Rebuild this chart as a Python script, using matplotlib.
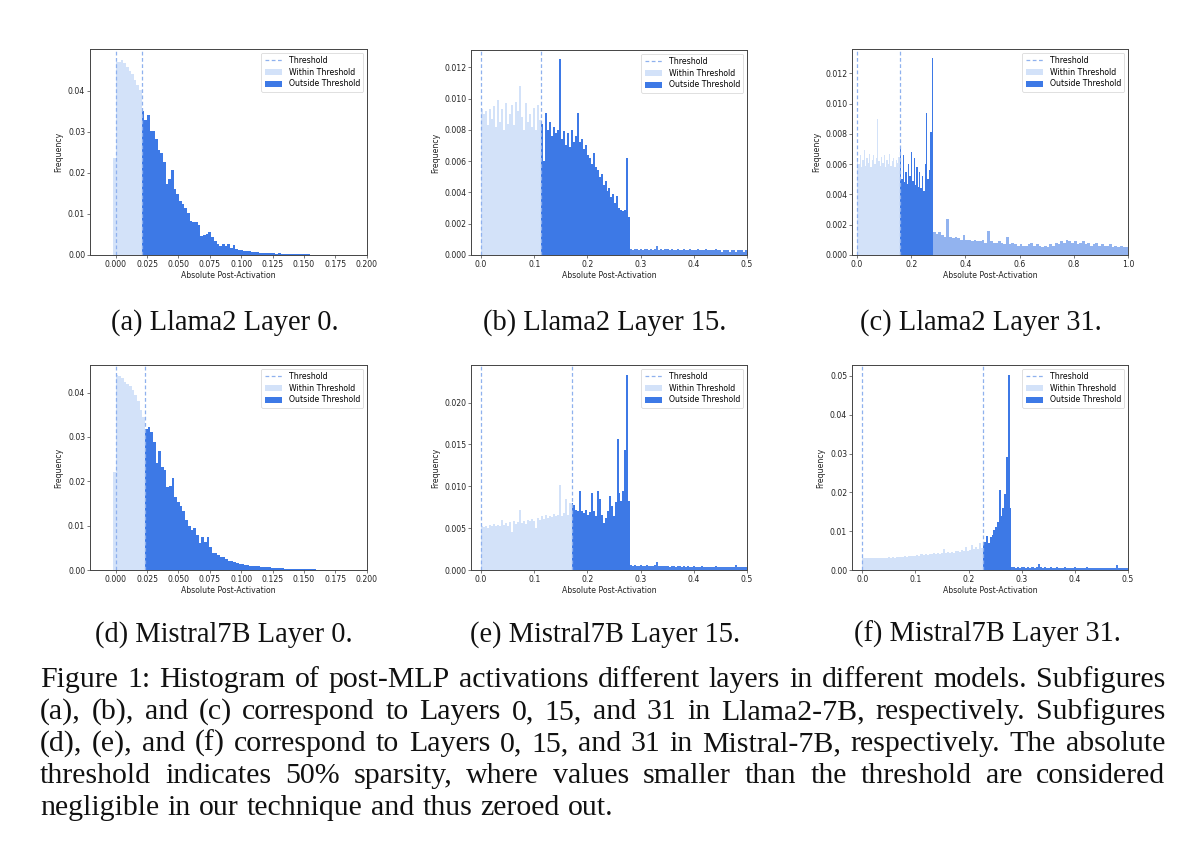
import numpy as np
import matplotlib
matplotlib.use("Agg")
import matplotlib.pyplot as plt
from matplotlib.lines import Line2D
from matplotlib.patches import Patch

# ---------------- data (bar heights in units of 1e-4) ----------------
SCALE = 1e-4

# (a) Llama2 Layer 0
A_LO, A_THR, A_BIN = -0.0021, 0.0207, 0.00213
a_within = [236, 470, 470, 476, 469, 459, 449, 441, 427, 415, 402]
a_outside = [351, 328, 340, 303, 303, 283, 256, 248, 226, 172, 185, 207, 160, 148, 132,
             124, 114, 102, 83, 81, 80, 73, 46, 49, 50, 55, 45, 33, 28, 22, 27, 23, 27,
             16, 24, 14, 11, 12, 10, 9, 9, 8, 7, 7, 6, 6, 5, 5, 4, 4, 3, 4, 3, 3, 3, 2,
             2, 2, 2, 2, 1.5, 2, 1.5, 1, 1, 1, 1, 1, 1, 1, 0.8, 0.8, 0.7, 0.6, 0.6, 0.5,
             0.5, 0.5, 0.4, 0.4, 0.3, 0.3, 0.3, 0.2]

# (b) Llama2 Layer 15
B_THR, B_CUT, B_END = 0.113, 0.2805, 0.5
b_within = [93, 90, 92, 83, 93, 87, 95, 82, 99, 85, 93, 80, 97, 84, 90, 96, 83, 98, 92, 108,
            88, 80, 97, 85, 90, 82, 94, 80, 96, 86]
b_outside = [84, 60, 91, 80, 85, 76, 82, 78, 80, 125, 74, 79, 70, 78, 69, 80, 72, 76, 91, 72,
             74, 68, 70, 64, 62, 58, 65, 56, 54, 50, 52, 45, 47, 41, 43, 37, 39, 33, 38, 30,
             29, 28, 29, 62, 24]
b_tail = [4, 3, 4, 4, 3, 4, 3, 4, 4, 3, 4, 3, 4, 6, 3, 4, 3, 4, 4, 3, 4, 3, 3, 4, 3, 3, 4, 3,
          3, 4, 3, 3, 3, 4, 3, 3, 3, 4, 3, 3, 3, 3, 4, 3, 3, 2, 3, 3, 3, 2, 3, 3, 2, 3, 3, 3,
          2, 3]

# (c) Llama2 Layer 31
C_THR, C_CUT, C_END = 0.158, 0.28, 1.0
c_within = [62, 60, 66, 58, 63, 69, 59, 64, 61, 67, 58, 63, 66, 60, 64, 90, 62, 59, 65, 61,
            66, 58, 63, 60, 67, 59, 62, 64, 58, 63, 61, 65]
c_outside = [72, 50, 66, 48, 55, 47, 60, 52, 68, 49, 64, 46, 58, 45, 55, 44, 52, 42, 60, 94,
             50, 56, 81, 130]
c_tail = [15, 14, 15, 13, 12, 24, 12, 11, 12, 11, 10, 13, 10, 10, 9, 10, 9, 9, 10, 8, 16, 9,
          8, 8, 9, 8, 7, 12, 7, 8, 7, 6, 7, 6, 6, 7, 8, 6, 7, 6, 5, 6, 5, 7, 6, 8, 7, 9, 8,
          10, 9, 8, 9, 7, 8, 9, 7, 8, 6, 7, 8, 6, 7, 6, 6, 7, 5, 6, 5, 6, 5, 5]

# (d) Mistral7B Layer 0
D_LO, D_THR, D_BIN = -0.0021, 0.0234, 0.00213
d_within = [220, 440, 438, 432, 423, 420, 414, 405, 395, 380, 361, 344]
d_outside = [318, 322, 310, 289, 242, 269, 233, 226, 188, 190, 207, 165, 154, 145, 132, 113,
             100, 90, 94, 79, 60, 74, 62, 74, 51, 39, 38, 34, 30, 29, 24, 21, 20, 17, 15, 14,
             14, 12, 11, 10, 9, 8, 8, 7, 7, 6, 6, 5, 5, 4, 4, 4, 3, 3, 3, 3, 2, 2, 2, 2, 2,
             1.5, 1.5, 1.5, 1, 1, 1, 1, 1, 1, 0.8, 0.8, 0.7, 0.6, 0.6, 0.5, 0.5, 0.4, 0.4,
             0.3, 0.3, 0.3, 0.2]

# (e) Mistral7B Layer 15
E_THR, E_CUT, E_END = 0.170, 0.2805, 0.5
e_within = [52, 51, 53, 50, 54, 52, 55, 53, 54, 52, 60, 54, 56, 52, 57, 45, 58, 55, 57, 72,
            56, 59, 55, 60, 58, 61, 59, 50, 62, 60, 64, 61, 66, 62, 65, 63, 67, 64, 66, 101,
            65, 68, 85, 66, 80]
e_outside = [80, 78, 72, 70, 95, 70, 68, 72, 66, 69, 92, 70, 64, 94, 85, 66, 56, 62, 70, 88,
             76, 65, 81, 157, 92, 83, 95, 144, 233, 82]
e_tail = [6, 5, 6, 5, 5, 6, 5, 5, 6, 5, 5, 5, 6, 9, 5, 5, 5, 5, 5, 4, 5, 5, 4, 5, 5, 4, 5, 4,
          5, 4, 4, 5, 4, 4, 4, 5, 4, 4, 4, 4, 4, 4, 5, 4, 4, 4, 4, 4, 4, 4, 4, 4, 6, 4, 4, 3,
          3, 3]

# (f) Mistral7B Layer 31
F_THR, F_CUT, F_END = 0.2264, 0.2805, 0.5
f_within = [30, 30, 31, 30, 31, 30, 30, 31, 31, 30, 31, 32, 31, 33, 32, 33, 32, 34, 33, 33,
            34, 35, 34, 36, 35, 37, 36, 38, 37, 40, 38, 40, 39, 42, 40, 43, 41, 45, 42, 44,
            55, 43, 46, 44, 47, 45, 48, 50, 46, 52, 48, 60, 50, 52, 65, 53, 58, 55, 70, 57]
f_outside = [70, 72, 88, 70, 85, 90, 102, 112, 124, 207, 140, 160, 195, 290, 503, 160]
f_tail = [7, 7, 6, 7, 6, 7, 7, 6, 7, 6, 7, 6, 7, 15, 7, 6, 7, 6, 6, 7, 6, 6, 7, 6, 6, 6, 7, 6,
          6, 6, 6, 7, 6, 6, 6, 6, 6, 7, 6, 6, 6, 6, 6, 6, 6, 6, 6, 6, 6, 6, 6, 6, 12, 6, 6, 5,
          6, 5]

subcaptions = ["(a) Llama2 Layer 0.", "(b) Llama2 Layer 15.", "(c) Llama2 Layer 31.",
               "(d) Mistral7B Layer 0.", "(e) Mistral7B Layer 15.", "(f) Mistral7B Layer 31."]
caption_lines = [
    "Figure 1: Histogram of post-MLP activations different layers in different models. Subfigures",
    "(a), (b), and (c) correspond to Layers 0, 15, and 31 in Llama2-7B, respectively. Subfigures",
    "(d), (e), and (f) correspond to Layers 0, 15, and 31 in Mistral-7B, respectively. The absolute",
    "threshold indicates 50% sparsity, where values smaller than the threshold are considered",
    "negligible in our technique and thus zeroed out.",
]

# ---------------- styles ----------------
LIGHT = "#d3e2f9"
DARK = "#3d79e6"
THR_COLOR = "#8fb1ee"
SPINE = "#444444"
TICK_FS = 5.6
W, H = 1200, 865

fig = plt.figure(figsize=(W / 100, H / 100), dpi=100)
fig.patch.set_facecolor("white")


def px_axes(l, t, r, b):
    return fig.add_axes([l / W, 1 - b / H, (r - l) / W, (b - t) / H])


def bars(ax, edges, heights, color):
    h = np.asarray(heights, dtype=float) * SCALE
    ax.bar(edges[:-1], h, width=np.diff(edges), align="edge", color=color,
           linewidth=0, zorder=2)


def style(ax, xlim, ylim, xticks, yticks, xfmt, yfmt, thr):
    ax.axvline(0.0, color=THR_COLOR, lw=0.9, ls=(0, (3, 2)), zorder=3)
    ax.axvline(thr, color=THR_COLOR, lw=0.9, ls=(0, (3, 2)), zorder=3)
    ax.set_xlim(*xlim)
    ax.set_ylim(*ylim)
    ax.set_xticks(xticks)
    ax.set_xticklabels([xfmt % v for v in xticks])
    ax.set_yticks(yticks)
    ax.set_yticklabels([yfmt % v for v in yticks])
    ax.tick_params(labelsize=TICK_FS, length=2, width=0.5, color=SPINE, pad=1.5,
                   labelcolor="#222222")
    for s in ax.spines.values():
        s.set_color(SPINE)
        s.set_linewidth(0.7)
    ax.set_xlabel("Absolute Post-Activation", fontsize=TICK_FS, labelpad=1.5, color="#222222")
    ax.set_ylabel("Frequency", fontsize=TICK_FS, labelpad=3, color="#222222")
    handles = [Line2D([], [], color=THR_COLOR, lw=0.9, ls=(0, (3, 2))),
               Patch(facecolor=LIGHT, edgecolor="none"),
               Patch(facecolor=DARK, edgecolor="none")]
    leg = ax.legend(handles, ["Threshold", "Within Threshold", "Outside Threshold"],
                    loc="upper right", fontsize=TICK_FS, borderaxespad=0.5,
                    handlelength=2.3, handleheight=0.8, labelspacing=0.35,
                    borderpad=0.4, framealpha=0.85)
    leg.get_frame().set_linewidth(0.5)
    leg.get_frame().set_edgecolor("#cccccc")


ticks_small = [0.0, 0.025, 0.05, 0.075, 0.1, 0.125, 0.15, 0.175, 0.2]
ticks_half = [0.0, 0.1, 0.2, 0.3, 0.4, 0.5]
ticks_one = [0.0, 0.2, 0.4, 0.6, 0.8, 1.0]

# (a)
ax = px_axes(90, 49, 367, 255)
bars(ax, np.linspace(A_LO, A_THR, len(a_within) + 1), a_within, LIGHT)
bars(ax, A_THR + A_BIN * np.arange(len(a_outside) + 1), a_outside, DARK)
style(ax, (-0.0205, 0.2003), (0, 0.0502), ticks_small, [0, 0.01, 0.02, 0.03, 0.04],
      "%.3f", "%.2f", A_THR)

# (b)
ax = px_axes(471, 50, 747, 255)
bars(ax, np.linspace(0, B_THR, len(b_within) + 1), b_within, LIGHT)
bars(ax, np.linspace(B_THR, B_CUT, len(b_outside) + 1), b_outside, DARK)
bars(ax, np.linspace(B_CUT, B_END, len(b_tail) + 1), b_tail, "#5b8de9")
style(ax, (-0.019, 0.5), (0, 0.0131), ticks_half,
      [0, 0.002, 0.004, 0.006, 0.008, 0.010, 0.012], "%.1f", "%.3f", B_THR)

# (c)
ax = px_axes(852, 49, 1128, 255)
bars(ax, np.linspace(0, C_THR, len(c_within) + 1), c_within, LIGHT)
bars(ax, np.linspace(C_THR, C_CUT, len(c_outside) + 1), c_outside, DARK)
bars(ax, np.linspace(C_CUT, C_END, len(c_tail) + 1), c_tail, "#92b3ef")
style(ax, (-0.0185, 1.0), (0, 0.0136), ticks_one,
      [0, 0.002, 0.004, 0.006, 0.008, 0.010, 0.012], "%.1f", "%.3f", C_THR)

# (d)
ax = px_axes(90, 365, 367, 570)
bars(ax, np.linspace(D_LO, D_THR, len(d_within) + 1), d_within, LIGHT)
bars(ax, D_THR + D_BIN * np.arange(len(d_outside) + 1), d_outside, DARK)
style(ax, (-0.0205, 0.2003), (0, 0.0462), ticks_small, [0, 0.01, 0.02, 0.03, 0.04],
      "%.3f", "%.2f", D_THR)

# (e)
ax = px_axes(471, 365, 747, 570)
bars(ax, np.linspace(0, E_THR, len(e_within) + 1), e_within, LIGHT)
bars(ax, np.linspace(E_THR, E_CUT, len(e_outside) + 1), e_outside, DARK)
bars(ax, np.linspace(E_CUT, E_END, len(e_tail) + 1), e_tail, "#4a82e8")
style(ax, (-0.019, 0.5), (0, 0.0245), ticks_half,
      [0, 0.005, 0.010, 0.015, 0.020], "%.1f", "%.3f", E_THR)

# (f)
ax = px_axes(852, 365, 1128, 570)
bars(ax, np.linspace(0, F_THR, len(f_within) + 1), f_within, LIGHT)
bars(ax, np.linspace(F_THR, F_CUT, len(f_outside) + 1), f_outside, DARK)
bars(ax, np.linspace(F_CUT, F_END, len(f_tail) + 1), f_tail, "#4a82e8")
style(ax, (-0.0195, 0.5), (0, 0.0528), ticks_half,
      [0, 0.01, 0.02, 0.03, 0.04, 0.05], "%.1f", "%.2f", F_THR)

# ---------------- captions ----------------
CAP_FAMILY = "Liberation Serif"
fig.canvas.draw()
rend = fig.canvas.get_renderer()


def text_w(s, fs):
    t = fig.text(0, 0, s, fontsize=fs, family=CAP_FAMILY)
    w = t.get_window_extent(renderer=rend).width
    t.remove()
    return w


REF = 20.0
fs_sub = REF * 218.0 / text_w(subcaptions[0], REF)
max_nat = max(text_w(l, REF) for l in caption_lines[:4])
fs_cap = REF * 1108.0 / max_nat
fs_subcap = 0.5 * (fs_sub + fs_cap)

sub_centers = [(225, 330), (605, 330), (981, 330), (224, 642), (605, 642), (987, 642)]
for s, (cx, by) in zip(subcaptions, sub_centers):
    fig.text(cx / W, 1 - by / H, s, fontsize=fs_subcap, family=CAP_FAMILY,
             ha="center", va="baseline", color="#111111")

LEFT, RIGHT = 40.0, 1165.0
baselines = [687, 719, 751, 783, 815]
space_w = text_w("a a", fs_cap) - text_w("aa", fs_cap)
for i, (line, by) in enumerate(zip(caption_lines, baselines)):
    words = line.split(" ")
    widths = [text_w(w_, fs_cap) for w_ in words]
    if i < len(caption_lines) - 1:
        gap = (RIGHT - LEFT - sum(widths)) / (len(words) - 1)
    else:
        gap = space_w * 1.1
    x = LEFT
    for w_, ww in zip(words, widths):
        fig.text(x / W, 1 - by / H, w_, fontsize=fs_cap, family=CAP_FAMILY,
                 ha="left", va="baseline", color="#111111")
        x += ww + gap

fig.savefig("out.png", dpi=100, facecolor="white")
